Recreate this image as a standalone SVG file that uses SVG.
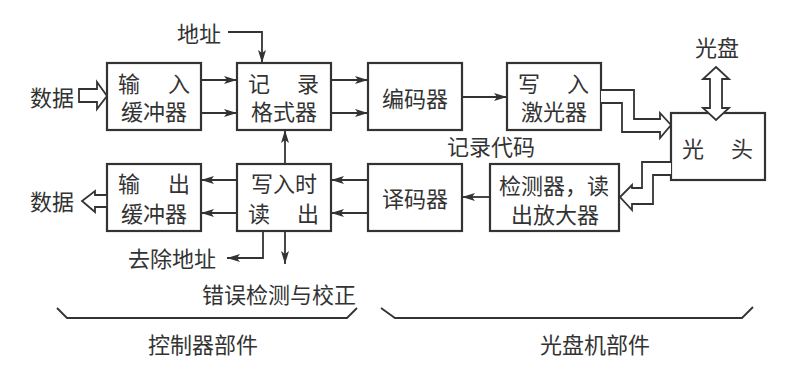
<svg xmlns="http://www.w3.org/2000/svg" width="802" height="373" viewBox="0 0 802 373">
<style>
.box{fill:#fff;stroke:#333;stroke-width:2.2}
.t{font-family:"Noto Sans CJK SC","Noto Sans",sans-serif;font-size:22px;fill:#333;dominant-baseline:central}
.m{text-anchor:middle}
.e{text-anchor:end}
.ln{fill:none;stroke:#333;stroke-width:1.8}
.ha{fill:#fff;stroke:#333;stroke-width:1.8;stroke-linejoin:miter}
</style>
<defs>
<marker id="ah" markerUnits="userSpaceOnUse" markerWidth="14" markerHeight="10" refX="13" refY="4" orient="auto">
<path d="M0,0 L13,4 L0,8 L3,4 z" fill="#333"/>
</marker>
</defs>
<rect width="802" height="373" fill="#fff"/>

<g id="in_buf"><rect class="box" x="107" y="63" width="94" height="67"/>
<text class="t" x="118" y="82">输</text><text class="t e" x="190" y="82">入</text>
<text class="t m" x="154" y="110">缓冲器</text></g>

<g id="fmt"><rect class="box" x="237" y="63" width="94" height="67"/>
<text class="t" x="248" y="82">记</text><text class="t e" x="319" y="82">录</text>
<text class="t m" x="284" y="110">格式器</text></g>

<g id="enc"><rect class="box" x="368" y="63" width="94" height="67"/>
<text class="t m" x="415" y="97">编码器</text></g>

<g id="laser"><rect class="box" x="507" y="63" width="94" height="67"/>
<text class="t" x="518" y="82">写</text><text class="t e" x="589" y="82">入</text>
<text class="t m" x="554" y="110">激光器</text></g>

<g id="head"><rect class="box" x="671" y="113" width="94" height="67"/>
<text class="t" x="682" y="147">光</text><text class="t e" x="753" y="147">头</text></g>

<g id="out_buf"><rect class="box" x="107" y="164" width="94" height="67"/>
<text class="t" x="118" y="182">输</text><text class="t e" x="190" y="182">出</text>
<text class="t m" x="154" y="212">缓冲器</text></g>

<g id="readout"><rect class="box" x="237" y="164" width="94" height="67"/>
<text class="t m" x="284" y="182">写入时</text>
<text class="t" x="248" y="212">读</text><text class="t e" x="319" y="212">出</text></g>

<g id="dec"><rect class="box" x="368" y="164" width="94" height="67"/>
<text class="t m" x="415" y="197">译码器</text></g>

<g id="det"><rect class="box" x="490" y="164" width="129" height="67"/>
<text class="t m" x="554" y="184">检测器，读</text>
<text class="t m" x="555" y="213">出放大器</text></g>

<g id="labels">
<text class="t m" x="199" y="32">地址</text>
<text class="t m" x="52" y="96">数据</text>
<text class="t m" x="52" y="200">数据</text>
<text class="t m" x="717" y="46">光盘</text>
<text class="t m" x="491" y="145">记录代码</text>
<text class="t m" x="172" y="257">去除地址</text>
<text class="t m" x="279" y="293">错误检测与校正</text>
<text class="t m" x="203" y="343">控制器部件</text>
<text class="t m" x="595" y="343">光盘机部件</text>
</g>

<g id="connectors">
<line class="ln" x1="201" y1="80" x2="237" y2="80" marker-end="url(#ah)"/>
<line class="ln" x1="201" y1="113" x2="237" y2="113" marker-end="url(#ah)"/>
<line class="ln" x1="331" y1="80" x2="368" y2="80" marker-end="url(#ah)"/>
<line class="ln" x1="331" y1="113" x2="368" y2="113" marker-end="url(#ah)"/>
<line class="ln" x1="462" y1="97" x2="507" y2="97" marker-end="url(#ah)"/>
<line class="ln" x1="237" y1="180" x2="201" y2="180" marker-end="url(#ah)"/>
<line class="ln" x1="237" y1="213" x2="201" y2="213" marker-end="url(#ah)"/>
<line class="ln" x1="368" y1="180" x2="331" y2="180" marker-end="url(#ah)"/>
<line class="ln" x1="368" y1="213" x2="331" y2="213" marker-end="url(#ah)"/>
<line class="ln" x1="490" y1="197" x2="462" y2="197" marker-end="url(#ah)"/>
<polyline class="ln" points="228,32 262,32 262,63" marker-end="url(#ah)"/>
<line class="ln" x1="285" y1="164" x2="285" y2="130" marker-end="url(#ah)"/>
<polyline class="ln" points="263,231 263,258 227,258" marker-end="url(#ah)"/>
<line class="ln" x1="285" y1="231" x2="285" y2="264" marker-end="url(#ah)"/>
<polygon class="ha" points="79,89 97,89 97,82 107,96 97,109 97,102 79,102"/>
<polygon class="ha" points="107,195 95,195 95,191 82,201 95,212 95,207 107,207"/>
<polygon class="ha" points="716,67 729,79 722,79 722,108 729,108 716,120 703,108 710,108 710,79 703,79"/>
<polyline class="ha" fill="none" points="601,90 634,90 634,119 660,119 660,113 671,125 660,138 660,132 622,132 622,103 601,103"/>
<polyline class="ha" fill="none" points="671,162 642,162 642,188 632,188 632,185 620,197 632,210 632,204 653,204 653,175 671,175"/>
<polyline class="ln" points="57,308 67,318 347,318 357,308"/>
<polyline class="ln" points="381,308 395,318 742,318 753,307"/>
</g>
</svg>
